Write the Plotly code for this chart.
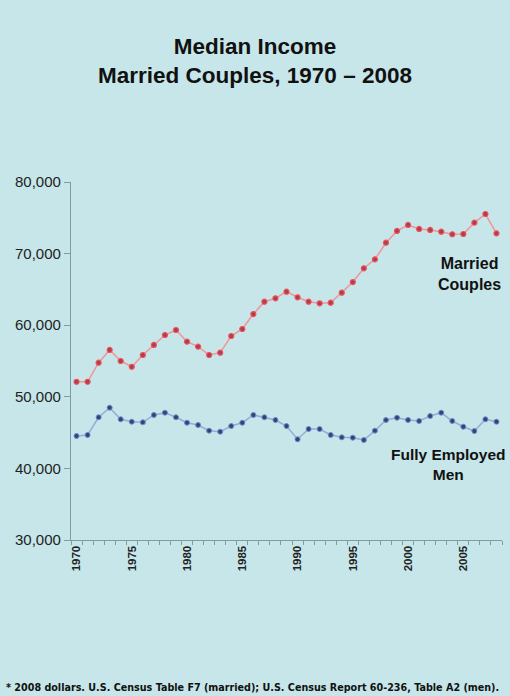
import plotly.graph_objects as go

# datos (dolares de 2008)
years = list(range(1970, 2009))
married = [52100, 52100, 54760, 56540, 55000, 54200, 55840, 57240, 58630, 59330,
           57700, 57000, 55840, 56160, 58490, 59470, 61560, 63280, 63760, 64680,
           63900, 63280, 63060, 63140, 64540, 66030, 67950, 69200, 71520, 73160,
           74000, 73440, 73300, 73060, 72700, 72740, 74320, 75530, 72830]
men = [44530, 44670, 47140, 48480, 46860, 46520, 46440, 47460, 47780, 47140,
       46380, 46060, 45270, 45130, 45920, 46380, 47460, 47140, 46760, 45920,
       44070, 45500, 45500, 44670, 44340, 44290, 43970, 45270, 46760, 47080,
       46760, 46620, 47320, 47780, 46620, 45820, 45220, 46860, 46520]
year_labels = [1970, 1975, 1980, 1985, 1990, 1995, 2000, 2005]
y_ticks = [30000, 40000, 50000, 60000, 70000, 80000]

bg = "#C6E6E9"
fnt = "Liberation Sans"

fig = go.Figure()
fig.add_trace(go.Scatter(x=years, y=married, mode="lines+markers", name="Married Couples",
                         line=dict(color="#F0959A", width=1.5),
                         marker=dict(color="#A8404F", size=5, line=dict(color="#F0505A", width=1.2))))
fig.add_trace(go.Scatter(x=years, y=men, mode="lines+markers", name="Fully Employed Men",
                         line=dict(color="#93ADD8", width=1.5),
                         marker=dict(color="#2E4677", size=5, line=dict(color="#6F8CC8", width=1))))

fig.update_layout(
    width=510, height=696,
    paper_bgcolor=bg, plot_bgcolor=bg,
    margin=dict(l=71, r=8, t=182, b=156),
    showlegend=False,
    title=dict(text="<b>Median Income<br>Married Couples, 1970 – 2008</b>",
               x=0.5, xanchor="center", y=0.923, yanchor="top",
               font=dict(family=fnt, size=22.5, color="#111111")),
    font=dict(family=fnt, color="#222222"),
)

fig.update_xaxes(range=[1969.5, 2008.5], tickvals=year_labels,
                 ticktext=["<b>%d</b>" % v for v in year_labels],
                 tickangle=-90, ticks="", showgrid=False, zeroline=False,
                 showline=True, linecolor="#7E9DA3", linewidth=1.3,
                 tickfont=dict(family=fnt, size=11.5, color="#222222"),
                 minor=dict(tick0=1969.5, dtick=1, ticks="outside", ticklen=4,
                            tickcolor="#7E9DA3", showgrid=False))
fig.update_yaxes(range=[30000, 80000], tickvals=y_ticks, tickformat=",",
                 ticks="outside", ticklen=6, tickcolor="#7E9DA3", showgrid=False, zeroline=False,
                 showline=True, linecolor="#7E9DA3", linewidth=1.3,
                 tickfont=dict(family=fnt, size=15, color="#222222"))

fig.add_annotation(x=2005.6, y=67200, text="<b>Married<br>Couples</b>", showarrow=False,
                   font=dict(family=fnt, size=16, color="#111111"), align="center")
fig.add_annotation(x=2003.7, y=40600, text="<b>Fully Employed<br>Men</b>", showarrow=False,
                   font=dict(family=fnt, size=15.5, color="#111111"), align="center")
fig.add_annotation(x=-0.155, y=-0.413, xref="paper", yref="paper", xanchor="left", yanchor="middle",
                   text="<b>* 2008 dollars. U.S. Census Table F7 (married); U.S. Census Report 60-236, Table A2 (men).</b>",
                   showarrow=False, font=dict(family="DejaVu Sans", size=9.6, color="#111111"))

fig.write_html("out.html", config={"displayModeBar": False},
               post_script="document.body.style.margin='0';")
